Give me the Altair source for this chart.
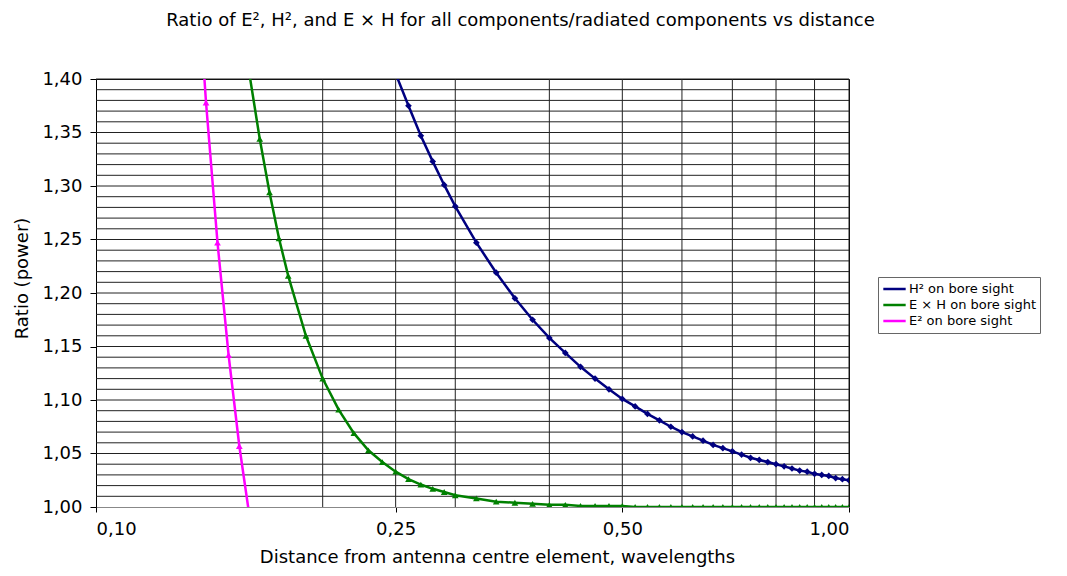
import altair as alt
import pandas as pd

distance = [0.130, 0.135, 0.140, 0.145, 0.150, 0.155, 0.160, 0.165, 0.170, 0.175, 0.180,
            0.19, 0.20, 0.21, 0.22, 0.23, 0.24, 0.25, 0.26, 0.27, 0.28, 0.29, 0.30,
            0.32, 0.34, 0.36, 0.38, 0.40, 0.42, 0.44, 0.46, 0.48, 0.50, 0.52, 0.54,
            0.56, 0.58, 0.60, 0.62, 0.64, 0.66, 0.68, 0.70, 0.72, 0.74, 0.76, 0.78,
            0.80, 0.82, 0.84, 0.86, 0.88, 0.90, 0.92, 0.94, 0.96, 0.98, 1.00]

h2 = [None, None, None, None, None, None, None, None, None, None, None,
      None, None, None, None, None, 1.440, 1.405, 1.375, 1.347, 1.323, 1.301, 1.281,
      1.247, 1.219, 1.195, 1.175, 1.158, 1.144, 1.131, 1.120, 1.110, 1.101, 1.094, 1.087,
      1.081, 1.075, 1.070, 1.066, 1.062, 1.058, 1.055, 1.052, 1.049, 1.046, 1.044, 1.042,
      1.040, 1.038, 1.036, 1.034, 1.033, 1.031, 1.030, 1.029, 1.027, 1.026, 1.025]

exh = [None, None, None, None, 1.558, 1.474, 1.403, 1.344, 1.294, 1.251, 1.216,
       1.160, 1.120, 1.091, 1.069, 1.053, 1.042, 1.033, 1.026, 1.021, 1.017, 1.014, 1.011,
       1.008, 1.005, 1.004, 1.003, 1.002, 1.002, 1.001, 1.001, 1.001, 1.001, 1.000, 1.000,
       1.000, 1.000, 1.000, 1.000, 1.000, 1.000, 1.000, 1.000, 1.000, 1.000, 1.000, 1.000,
       1.000, 1.000, 1.000, 1.000, 1.000, 1.000, 1.000, 1.000, 1.000, 1.000, 1.000]

e2 = [1.748, 1.542, 1.378, 1.247, 1.142, 1.057, 0.990, 0.935, None, None, None,
      None, None, None, None, None, None, None, None, None, None, None, None,
      None, None, None, None, None, None, None, None, None, None, None, None,
      None, None, None, None, None, None, None, None, None, None, None, None,
      None, None, None, None, None, None, None, None, None, None, None]

series_names = ["H² on bore sight", "E × H on bore sight", "E² on bore sight"]
series_colors = ["#000080", "#008000", "#FF00FF"]
series_shapes = ["diamond", "triangle-up", "triangle-up"]

x_labels = [0.10, 0.25, 0.50, 1.00]
grid_x = [0.2, 0.25, 0.3, 0.4, 0.5, 0.6, 0.7, 0.8, 0.9, 1.0]
y_labels = [1.00, 1.05, 1.10, 1.15, 1.20, 1.25, 1.30, 1.35, 1.40]
grid_y = [1.01, 1.02, 1.03, 1.04, 1.05, 1.06, 1.07, 1.08, 1.09, 1.10,
          1.11, 1.12, 1.13, 1.14, 1.15, 1.16, 1.17, 1.18, 1.19, 1.20,
          1.21, 1.22, 1.23, 1.24, 1.25, 1.26, 1.27, 1.28, 1.29, 1.30,
          1.31, 1.32, 1.33, 1.34, 1.35, 1.36, 1.37, 1.38, 1.39, 1.40]

rows = []
for name, vals in zip(series_names, [h2, exh, e2]):
    for d, v in zip(distance, vals):
        if v is not None:
            rows.append({"distance": d, "ratio": v, "series": name})
df = pd.DataFrame(rows)

FONT = "DejaVu Sans"
fmt = "replace(format(datum.value, '.2f'), '.', ',')"
xscale = alt.Scale(type="log", domain=[0.1, 1.0], nice=False)
yscale = alt.Scale(domain=[1.0, 1.4], nice=False, zero=False)
xaxis = alt.Axis(title="Distance from antenna centre element, wavelengths",
                 values=x_labels, labelExpr=fmt, grid=False, tickSize=5,
                 tickColor="#000", domainColor="#888", labelPadding=8, titlePadding=10,
                 titleX=401, titleAnchor="middle")
yaxis = alt.Axis(title="Ratio (power)", values=y_labels, labelExpr=fmt, grid=False,
                 tickSize=6, tickColor="#000", domainColor="#000", labelPadding=8,
                 titlePadding=10, titleY=199, titleAnchor="middle")

gx = alt.Chart(pd.DataFrame({"distance": grid_x})).mark_rule(color="#222", strokeWidth=1).encode(
    x=alt.X("distance:Q", scale=xscale, axis=xaxis))
gy = alt.Chart(pd.DataFrame({"ratio": grid_y})).mark_rule(color="#222", strokeWidth=1).encode(
    y=alt.Y("ratio:Q", scale=yscale, axis=yaxis))

base = alt.Chart(df).encode(
    x=alt.X("distance:Q", scale=xscale, axis=xaxis),
    y=alt.Y("ratio:Q", scale=yscale, axis=yaxis),
)
lines = base.mark_line(clip=True, strokeWidth=2.5).encode(
    color=alt.Color("series:N", sort=series_names,
                    scale=alt.Scale(domain=series_names, range=series_colors),
                    legend=alt.Legend(title=None, orient="none", legendX=782, legendY=198,
                                      symbolType="stroke", symbolStrokeWidth=2.5,
                                      symbolSize=500, labelFont=FONT, labelFontSize=13,
                                      labelColor="#000", strokeColor="#666", fillColor="#fff",
                                      padding=4, rowPadding=0, labelOffset=2, clipHeight=16)))

point_layers = []
for name, col, shp in zip(series_names, series_colors, series_shapes):
    point_layers.append(
        base.transform_filter(alt.datum.series == name)
        .mark_point(clip=True, filled=True, size=45, opacity=1, shape=shp, color=col)
    )

chart = alt.layer(gx, gy, lines, *point_layers).properties(
    width=753, height=428,
    title=alt.TitleParams("Ratio of E², H², and E × H for all components/radiated components vs distance",
                          font=FONT, fontSize=18, fontWeight="normal", color="#000", offset=40, dx=48),
    autosize=alt.AutoSizeParams(type="none"),
    padding={"left": 96, "top": 79, "right": 218, "bottom": 69},
).configure_view(stroke="#000", strokeWidth=1).configure_axis(
    labelFont=FONT, labelFontSize=18, labelColor="#000", titleFont=FONT, titleFontSize=18,
    titleFontWeight="normal", titleColor="#000")

chart.save("out.html", embed_options={"renderer": "svg", "actions": False})
